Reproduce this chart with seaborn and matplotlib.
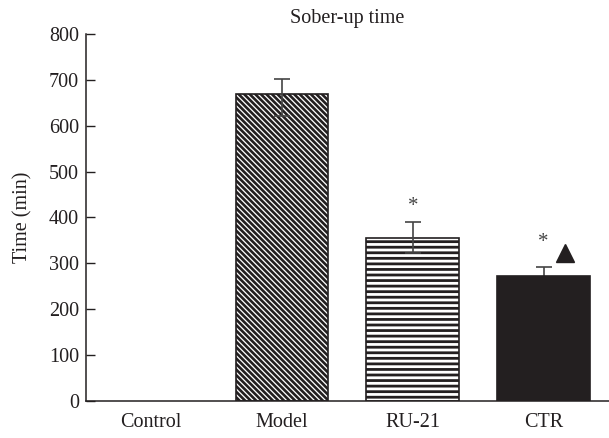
import matplotlib
matplotlib.use("Agg")
import matplotlib.pyplot as plt
import seaborn as sns
import pandas as pd

groups = ["Control", "Model", "RU-21", "CTR"]
times = [0, 669, 356, 272]
err_low = [0, 48, 33, 21]
err_high = [0, 33, 35, 21]
hatches = ["", "\\\\\\\\\\\\", "---", ""]
fills = ["white", "white", "white", "#231f20"]

sns.set_style("white")
plt.rcParams["font.family"] = ["Liberation Serif", "DejaVu Serif"]
plt.rcParams["hatch.linewidth"] = 2.0

dark = "#231f20"
fs = 14.5
df = pd.DataFrame({"group": groups, "time": times})

fig = plt.figure(figsize=(6.09, 4.38), dpi=100)
ax = fig.add_axes([0.141, 0.085, 0.859, 0.837])

sns.barplot(data=df, x="group", y="time", order=groups, errorbar=None,
            width=0.71, ax=ax, color="white")
for i, (patch, h, fc) in enumerate(zip(ax.patches, hatches, fills)):
    patch.set_facecolor(fc)
    patch.set_hatch(h)
    patch.set_edgecolor(dark)
    patch.set_linewidth(1.2 if times[i] > 0 else 0)
    if h.startswith("\\") and hasattr(patch, "set_hatch_linewidth"):
        patch.set_hatch_linewidth(1.9)

# error bars: hatched bars show the whisker on top, the solid bar hides it
ax.errorbar([1, 2], times[1:3], yerr=[err_low[1:3], err_high[1:3]],
            fmt="none", ecolor="#444444", elinewidth=1.2, capsize=6, capthick=1.2,
            zorder=5)
ax.errorbar([3], times[3:], yerr=[err_low[3:], err_high[3:]],
            fmt="none", ecolor="#444444", elinewidth=1.2, capsize=6, capthick=1.2,
            zorder=0.5)

# significance marks
ax.text(2, 423, "*", ha="center", va="center", fontsize=15, color="#444444")
ax.text(3, 345, "*", ha="center", va="center", fontsize=15, color="#444444")
ax.plot([3.16], [323], marker="^", markersize=13, color=dark, linestyle="none")

ax.set_xlim(-0.5, 3.5)
ax.set_ylim(0, 800)
ax.set_yticks(range(0, 801, 100))
ax.set_xlabel("")
ax.set_ylabel("Time (min)", fontsize=fs, color=dark, labelpad=12)
ax.set_title("Sober-up time", fontsize=fs, color=dark, pad=8)

ax.set_xticks([0.5, 1.5, 2.5], minor=True)
ax.tick_params(axis="x", which="major", length=0, labelsize=fs, colors=dark, pad=9)
ax.tick_params(axis="x", which="minor", direction="in", length=5, width=1, color=dark)
ax.tick_params(axis="y", direction="in", length=6.5, width=1, labelsize=fs,
               colors=dark, left=True, pad=5)
for s in ["top", "right"]:
    ax.spines[s].set_visible(False)
for s in ["left", "bottom"]:
    ax.spines[s].set_color(dark)
    ax.spines[s].set_linewidth(1.1)

fig.savefig("out.png", dpi=100)
